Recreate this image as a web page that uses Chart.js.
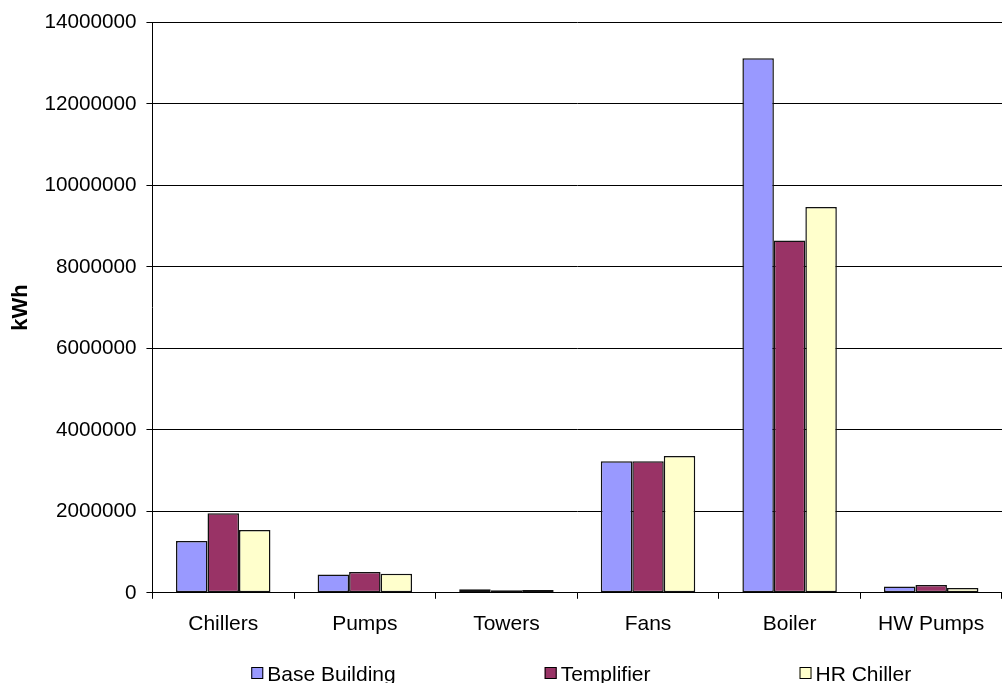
<!DOCTYPE html>
<html>
<head>
<meta charset="utf-8">
<script src="https://cdn.jsdelivr.net/npm/chart.js@4"></script>
<style>
html,body{margin:0;padding:0;background:#fff;}
#wrap{width:1002px;height:683px;position:relative;}
</style>
</head>
<body>
<div id="wrap"><canvas id="c" width="1002" height="683"></canvas></div>
<script>
const categories = ["Chillers", "Pumps", "Towers", "Fans", "Boiler", "HW Pumps"];
const baseBuilding = [1270000, 450000, 85000, 3230000, 13120000, 155000];
const templifier = [1950000, 510000, 60000, 3230000, 8650000, 190000];
const hrChiller = [1540000, 470000, 70000, 3360000, 9470000, 115000];
const seriesNames = ["Base Building", "Templifier", "HR Chiller"];
const seriesColors = ["#9999FF", "#993366", "#FFFFCC"];
const yMin = 0, yMax = 14000000, yStep = 2000000;
const yTitle = "kWh";

const FONT = "'Liberation Sans', Arial, sans-serif";

const legendPlugin = {
  id: 'customLegend',
  afterDraw(chart) {
    const ctx = chart.ctx;
    const ds = chart.data.datasets;
    ctx.save();
    ctx.font = "21px " + FONT;
    const box = 12, gapText = 4, gapItem = 149;
    const widths = ds.map(d => box + gapText + ctx.measureText(d.label).width);
    const total = widths.reduce((a, b) => a + b, 0) + gapItem * (ds.length - 1);
    const ca = chart.chartArea;
    let x = (ca.left + ca.right) / 2 + 4 - total / 2;
    const baseline = chart.height - 2;
    ds.forEach((d, i) => {
      ctx.fillStyle = d.backgroundColor;
      ctx.fillRect(x, baseline - 14, box, box);
      ctx.strokeStyle = "#000";
      ctx.lineWidth = 1;
      ctx.strokeRect(x + 0.5, baseline - 13.5, box - 1, box - 1);
      ctx.fillStyle = "#000";
      ctx.textBaseline = "alphabetic";
      ctx.textAlign = "left";
      ctx.fillText(d.label, x + box + gapText, baseline);
      x += widths[i] + gapItem;
    });
    ctx.restore();
  }
};

new Chart(document.getElementById('c'), {
  type: 'bar',
  data: {
    labels: categories,
    datasets: [
      { label: seriesNames[0], data: baseBuilding, backgroundColor: seriesColors[0] },
      { label: seriesNames[1], data: templifier, backgroundColor: seriesColors[1] },
      { label: seriesNames[2], data: hrChiller, backgroundColor: seriesColors[2] }
    ].map(d => Object.assign(d, { borderColor: "#111", borderWidth: 1.5, borderSkipped: false, categoryPercentage: 0.667, barPercentage: 1.0 }))
  },
  options: {
    responsive: false,
    animation: false,
    layout: { padding: { top: 22, right: 0, bottom: 33, left: 0 } },
    plugins: {
      legend: { display: false },
      tooltip: { enabled: false }
    },
    scales: {
      x: {
        grid: { display: true, drawOnChartArea: false, color: "#000", tickLength: 6, lineWidth: 1 },
        border: { display: true, color: "#000", width: 1 },
        ticks: { color: "#000", font: { family: FONT, size: 21 }, padding: 13, maxRotation: 0, autoSkip: false }
      },
      y: {
        min: yMin, max: yMax,
        grid: { color: "#000", tickLength: 6, lineWidth: 1 },
        border: { display: true, color: "#000", width: 1 },
        ticks: { stepSize: yStep, color: "#000", font: { family: FONT, size: 20.7 }, padding: 10, callback: v => String(v) },
        title: { display: true, text: yTitle, color: "#000", font: { family: FONT, size: 22, weight: 'bold' }, padding: { top: 8, bottom: 0 } }
      }
    }
  },
  plugins: [legendPlugin]
});
</script>
</body>
</html>
